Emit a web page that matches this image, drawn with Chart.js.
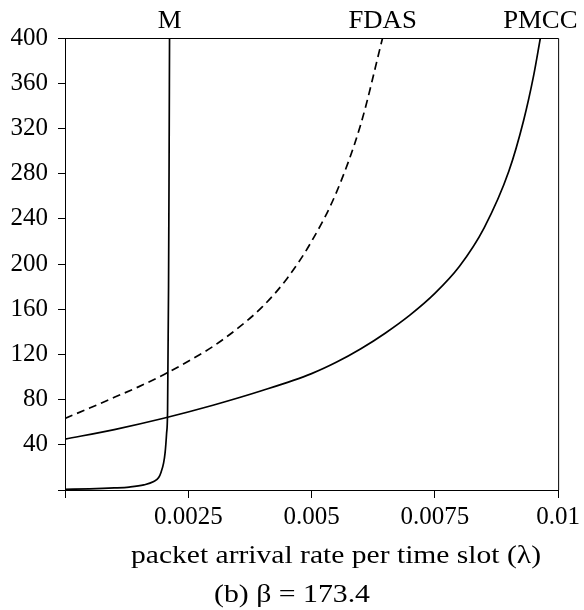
<!DOCTYPE html>
<html>
<head>
<meta charset="utf-8">
<script src="https://cdn.jsdelivr.net/npm/chart.js@4.4.1/dist/chart.umd.min.js"></script>
<style>
  html, body { margin: 0; padding: 0; background: #fff; }
  #wrap { width: 584px; height: 610px; }
</style>
</head>
<body>
<div id="wrap"><canvas id="chart"></canvas></div>
<script>
// values (lambda, delay)
const mLambda = [0, 0.0005, 0.001, 0.0013, 0.0016, 0.0018, 0.0019, 0.00195, 0.002, 0.00203, 0.00206, 0.00208, 0.0021, 0.00211, 0.00212];
const mDelay = [0.6, 1.0, 1.8, 2.6, 4.5, 7.5, 11, 16, 24, 33, 50, 70, 180, 280, 400];

const fdasLambda = [0, 0.0005, 0.001, 0.0015, 0.002, 0.0025, 0.003, 0.0035, 0.004, 0.0045, 0.005, 0.0055, 0.006, 0.00644];
const fdasDelay = [63.4, 72.5, 82, 91.5, 102, 114, 127, 143, 162, 187, 220, 263, 324, 400];

const pmccLambda = [0, 0.001, 0.002, 0.003, 0.004, 0.005, 0.0055, 0.006, 0.0065, 0.007, 0.0075, 0.008, 0.0085, 0.009, 0.0093, 0.0095, 0.00964];
const pmccDelay = [45, 53.5, 63.5, 75, 88, 103, 113, 125, 139, 155, 174, 198, 232, 282, 327, 366, 400];

const seriesNames = ['M', 'FDAS', 'PMCC'];
const xTicks = [0, 0.0025, 0.005, 0.0075, 0.01];
const xTickLabels = ['', '0.0025', '0.005', '0.0075', '0.01'];
const yTicks = [0, 40, 80, 120, 160, 200, 240, 280, 320, 360, 400];
const xTitle = 'packet arrival rate per time slot (λ)';
const caption = '(b) β = 173.4';

const FONT = '"Liberation Serif", "Times New Roman", serif';

function pts(xs, ys) {
  return xs.map((x, i) => ({ x: x, y: ys[i] }));
}

// the original is set in a wider TeX font, so stretch the text sideways to its width
function wideText(ctx, text, cx, y, width) {
  ctx.save();
  const w = ctx.measureText(text).width;
  ctx.textAlign = 'center';
  ctx.translate(cx, y);
  ctx.scale(width / w, 1);
  ctx.fillText(text, 0, 0);
  ctx.restore();
}

const frameAndText = {
  id: 'frameAndText',
  afterDraw(chart) {
    const ctx = chart.ctx;
    const a = chart.chartArea;
    const xs = chart.scales.x;
    ctx.save();
    // box round the plot
    ctx.strokeStyle = '#000';
    ctx.lineWidth = 1;
    ctx.beginPath();
    ctx.moveTo(a.left, a.top + 0.5);
    ctx.lineTo(a.right + 0.5, a.top + 0.5);
    ctx.lineTo(a.right + 0.5, a.bottom);
    ctx.stroke();

    ctx.fillStyle = '#000';
    ctx.textBaseline = 'alphabetic';
    ctx.font = '25px ' + FONT;
    // curve names above where each curve leaves the top
    chart.data.datasets.forEach((ds, i) => {
      const last = ds.data[ds.data.length - 1];
      const name = seriesNames[i];
      const w = ctx.measureText(name).width;
      wideText(ctx, name, xs.getPixelForValue(last.x), a.top - 10, w * 1.07);
    });
    // axis title and caption
    ctx.font = '26px ' + FONT;
    wideText(ctx, xTitle, 336, a.bottom + 73, 410);
    wideText(ctx, caption, 292, a.bottom + 112, 156);
    ctx.restore();
  }
};

new Chart(document.getElementById('chart'), {
  type: 'scatter',
  data: {
    datasets: [
      {
        label: seriesNames[0],
        data: pts(mLambda, mDelay),
        borderColor: '#000',
        borderWidth: 1.7,
        showLine: true,
        pointRadius: 0,
        cubicInterpolationMode: 'monotone'
      },
      {
        label: seriesNames[1],
        data: pts(fdasLambda, fdasDelay),
        borderColor: '#000',
        borderWidth: 1.7,
        borderDash: [8, 5],
        showLine: true,
        pointRadius: 0,
        cubicInterpolationMode: 'monotone'
      },
      {
        label: seriesNames[2],
        data: pts(pmccLambda, pmccDelay),
        borderColor: '#000',
        borderWidth: 1.7,
        showLine: true,
        pointRadius: 0,
        cubicInterpolationMode: 'monotone'
      }
    ]
  },
  options: {
    responsive: true,
    maintainAspectRatio: false,
    animation: false,
    layout: { padding: { top: 38, right: 23, left: 0, bottom: 0 } },
    plugins: {
      legend: { display: false },
      tooltip: { enabled: false }
    },
    scales: {
      x: {
        type: 'linear',
        min: 0,
        max: 0.01,
        afterBuildTicks: s => { s.ticks = xTicks.map(v => ({ value: v })); },
        afterFit: s => { s.height = 120; },
        grid: { drawOnChartArea: false, drawTicks: true, tickLength: 8, color: '#000' },
        border: { display: true, color: '#000', width: 1 },
        ticks: {
          color: '#000',
          font: { family: FONT, size: 25 },
          padding: 4,
          maxRotation: 0,
          autoSkip: false,
          callback: (v, i) => xTickLabels[i]
        }
      },
      y: {
        type: 'linear',
        min: 0,
        max: 400,
        afterBuildTicks: s => { s.ticks = yTicks.map(v => ({ value: v })); },
        afterFit: s => { s.width = 65; },
        grid: { drawOnChartArea: false, drawTicks: true, tickLength: 7, color: '#000' },
        border: { display: true, color: '#000', width: 1 },
        ticks: {
          color: '#000',
          font: { family: FONT, size: 25 },
          padding: 10,
          autoSkip: false,
          callback: v => v === 0 ? '' : String(v)
        }
      }
    }
  },
  plugins: [frameAndText]
});
</script>
</body>
</html>
